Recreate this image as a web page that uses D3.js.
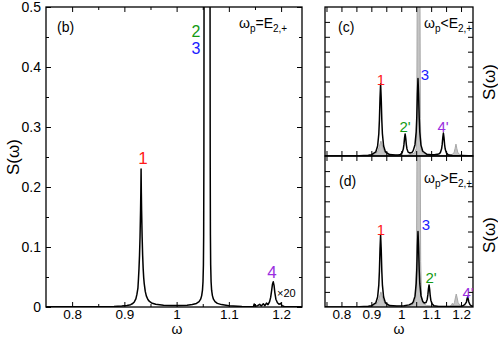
<!DOCTYPE html>
<html>
<head>
<meta charset="utf-8">
<script src="https://cdn.jsdelivr.net/npm/d3@7"></script>
<style>
  body { margin: 0; background: #fff; }
  svg { display: block; font-family: "Liberation Sans", Arial, sans-serif; }
</style>
</head>
<body>
<svg id="chart" width="498" height="337"></svg>
<script>
// spectrum for panel (b), [omega, S]
const curveB = [
  [0.750,0.0003],[0.850,0.0005],[0.880,0.0009],[0.895,0.0016],[0.905,0.0024],[0.912,0.0038],
  [0.916,0.0058],[0.919,0.0085],[0.922,0.0135],[0.924,0.021],[0.926,0.032],[0.927,0.047],
  [0.928,0.064],[0.929,0.086],[0.930,0.117],[0.931,0.161],[0.9315,0.19],[0.932,0.23],
  [0.9325,0.19],[0.933,0.161],[0.934,0.117],[0.935,0.086],[0.936,0.064],[0.937,0.049],
  [0.938,0.039],[0.940,0.026],[0.942,0.0185],[0.945,0.0125],[0.948,0.0092],[0.952,0.0068],
  [0.960,0.0046],[0.975,0.003],[0.990,0.0025],[1.005,0.0025],[1.020,0.0031],[1.030,0.0042],
  [1.038,0.006],[1.043,0.009],[1.046,0.013],[1.048,0.019],[1.0495,0.028],[1.0505,0.042],
  [1.0513,0.07],[1.0518,0.12],[1.0522,0.25],[1.0525,0.5],[1.0528,1.2],[1.0535,3],[1.0630,3],
  [1.0637,1.2],[1.0640,0.5],[1.0643,0.25],[1.0647,0.12],[1.0652,0.07],[1.0660,0.042],
  [1.0670,0.028],[1.0685,0.019],[1.0705,0.013],[1.0735,0.009],[1.078,0.006],[1.086,0.004],
  [1.100,0.002],[1.125,0.0009],[1.147,0.0005],[1.1485,0.005],[1.150,0.0012],[1.155,0.0022],
  [1.159,0.0045],[1.162,0.0016],[1.166,0.0055],[1.169,0.0022],[1.172,0.0065],[1.175,0.004],
  [1.178,0.009],[1.180,0.016],[1.182,0.028],[1.1835,0.038],[1.185,0.042],[1.1865,0.036],
  [1.188,0.024],[1.190,0.013],[1.193,0.007],[1.196,0.0045],[1.199,0.006],[1.202,0.002],
  [1.206,0.0009],[1.240,0.0003]
];

// panel (c), omega_p < E_2,+
const curveC = [
  [0.745,0.0008],[0.860,0.002],[0.890,0.005],[0.901,0.0085],[0.915,0.028],[0.921,0.067],
  [0.925,0.149],[0.927,0.242],[0.929,0.386],[0.931,0.483],[0.933,0.386],[0.935,0.242],
  [0.937,0.149],[0.941,0.067],[0.947,0.028],[0.961,0.0095],[0.980,0.006],[0.990,0.0075],
  [0.997,0.0105],[1.003,0.022],[1.007,0.048],[1.009,0.076],[1.011,0.12],[1.013,0.148],
  [1.015,0.12],[1.017,0.077],[1.019,0.049],[1.023,0.026],[1.029,0.02],[1.036,0.024],
  [1.040,0.036],[1.046,0.076],[1.050,0.162],[1.052,0.26],[1.054,0.416],[1.056,0.52],
  [1.058,0.416],[1.060,0.26],[1.062,0.162],[1.066,0.073],[1.072,0.032],[1.086,0.011],
  [1.100,0.008],[1.111,0.009],[1.125,0.013],[1.131,0.023],[1.135,0.048],[1.137,0.078],
  [1.139,0.123],[1.141,0.154],[1.143,0.123],[1.145,0.077],[1.147,0.047],[1.151,0.021],
  [1.157,0.009],[1.171,0.003],[1.240,0.001]
];
const greyC = [
  [0.745,0],[0.880,0.002],[0.905,0.008],[0.915,0.016],[0.922,0.035],[0.927,0.065],[0.932,0.1],
  [0.937,0.065],[0.942,0.035],[0.949,0.016],[0.960,0.008],[0.990,0.004],[1.020,0.006],[1.035,0.011],
  [1.045,0.022],[1.050,0.05],[1.052,0.25],[1.0532,1],[1.054,6],[1.062,6],[1.0628,1],[1.064,0.25],
  [1.066,0.05],[1.071,0.022],[1.085,0.009],[1.120,0.004],[1.165,0.004],[1.172,0.012],
  [1.177,0.025],[1.180,0.05],[1.183,0.08],[1.186,0.05],[1.189,0.025],[1.195,0.01],[1.240,0]
];

// panel (d), omega_p > E_2,+
const curveD = [
  [0.745,0.0008],[0.860,0.002],[0.890,0.005],[0.901,0.0085],[0.915,0.028],[0.921,0.066],
  [0.925,0.147],[0.927,0.239],[0.929,0.382],[0.931,0.477],[0.933,0.382],[0.935,0.239],
  [0.937,0.147],[0.941,0.066],[0.947,0.028],[0.961,0.0095],[0.985,0.006],[1.010,0.008],
  [1.026,0.014],[1.036,0.023],[1.040,0.033],[1.046,0.072],[1.050,0.156],[1.052,0.25],
  [1.054,0.4],[1.056,0.50],[1.058,0.4],[1.060,0.25],[1.062,0.156],[1.066,0.075],
  [1.072,0.036],[1.077,0.026],[1.083,0.03],[1.087,0.052],[1.089,0.08],[1.091,0.12],
  [1.093,0.146],[1.095,0.117],[1.097,0.073],[1.099,0.045],[1.103,0.021],[1.109,0.009],
  [1.125,0.004],[1.180,0.003],[1.200,0.004],[1.207,0.008],[1.214,0.02],[1.218,0.033],
  [1.220,0.053],[1.222,0.066],[1.224,0.053],[1.226,0.033],[1.230,0.015],[1.236,0.006],
  [1.240,0.004]
];
const greyD = [
  [0.745,0],[0.880,0.002],[0.905,0.008],[0.915,0.016],[0.922,0.035],[0.927,0.065],[0.932,0.1],
  [0.937,0.065],[0.942,0.035],[0.949,0.016],[0.960,0.008],[0.990,0.004],[1.020,0.006],[1.035,0.012],
  [1.043,0.025],[1.048,0.06],[1.051,0.3],[1.0525,1],[1.0535,6],[1.0625,6],[1.0635,1],[1.065,0.3],
  [1.068,0.06],[1.073,0.025],[1.085,0.01],[1.120,0.004],[1.162,0.004],[1.168,0.012],
  [1.171,0.025],[1.174,0.012],[1.178,0.03],[1.181,0.06],[1.184,0.086],[1.187,0.06],
  [1.190,0.03],[1.196,0.012],[1.240,0]
];

const omegaTicksMajor = [0.8, 0.9, 1.0, 1.1, 1.2];
const omegaTicksMinorB = [0.85, 0.95, 1.05, 1.15];
const omegaTicksR = [0.75, 0.8, 0.85, 0.9, 0.95, 1.0, 1.05, 1.1, 1.15, 1.2];
const sTicksB = [0, 0.1, 0.2, 0.3, 0.4, 0.5];
const sTicksMinorB = [0.05, 0.15, 0.25, 0.35, 0.45];
const sTicksR = [0.1, 0.2, 0.3, 0.4, 0.5, 0.6, 0.7, 0.8, 0.9];

const RED = "#ff1a1a", GREEN = "#139a13", BLUE = "#1a1aff", PURPLE = "#9a2ee0";

const svg = d3.select("#chart");
const fmt = d => d === 1 ? "1" : d === 0 ? "0" : d3.format(".1f")(d);

const xB = d3.scaleLinear().domain([0.75, 1.24]).range([46, 302]);
const yB = d3.scaleLinear().domain([0, 0.5]).range([307, 7]);
const xR = d3.scaleLinear().domain([0.745, 1.24]).range([325, 473]);
const yC = d3.scaleLinear().domain([0, 1]).range([156, 7]);
const yD = d3.scaleLinear().domain([0, 1]).range([307, 156]);

function axes(x, y, opts) {
  const [x0, x1] = x.range(), [y0, y1] = y.range();
  const g = svg.append("g").attr("class", "axes");
  const add = (axis, tx, ty, size) => {
    const a = g.append("g").attr("transform", `translate(${tx},${ty})`).call(axis);
    a.select(".domain").remove();
    a.selectAll("line").attr("stroke", "#000").attr("stroke-width", 1);
    a.selectAll("text").attr("font-size", size || 14).attr("fill", "#000");
    return a;
  };
  // x major / minor, bottom and top
  add(d3.axisBottom(x).tickValues(opts.xMajor).tickSize(-5).tickPadding(2)
      .tickFormat(opts.xLabels ? fmt : ""), 0, y0, 13.5);
  add(d3.axisTop(x).tickValues(opts.xMajor).tickSize(-5).tickFormat(""), 0, y1);
  if (opts.xMinor) {
    add(d3.axisBottom(x).tickValues(opts.xMinor).tickSize(-3).tickFormat(""), 0, y0);
    add(d3.axisTop(x).tickValues(opts.xMinor).tickSize(-3).tickFormat(""), 0, y1);
  }
  add(d3.axisLeft(y).tickValues(opts.yMajor).tickSize(-5).tickPadding(5)
      .tickFormat(opts.yLabels ? fmt : ""), x0, 0);
  add(d3.axisRight(y).tickValues(opts.yMajor).tickSize(-5).tickFormat(""), x1, 0);
  if (opts.yMinor) {
    add(d3.axisLeft(y).tickValues(opts.yMinor).tickSize(-3).tickFormat(""), x0, 0);
    add(d3.axisRight(y).tickValues(opts.yMinor).tickSize(-3).tickFormat(""), x1, 0);
  }
}

function clip(id, x, y) {
  const [x0, x1] = x.range(), [y0, y1] = y.range();
  svg.append("clipPath").attr("id", id).append("rect")
    .attr("x", x0).attr("y", y1).attr("width", x1 - x0).attr("height", y0 - y1);
  return svg.append("g").attr("clip-path", `url(#${id})`);
}

function frame(x, y) {
  const [x0, x1] = x.range(), [y0, y1] = y.range();
  svg.append("rect").attr("x", x0).attr("y", y1).attr("width", x1 - x0).attr("height", y0 - y1)
    .attr("fill", "none").attr("stroke", "#000").attr("stroke-width", 1.3);
}

function drawCurve(g, data, x, y) {
  g.append("path").datum(data)
    .attr("d", d3.line().x(d => x(d[0])).y(d => y(d[1])))
    .attr("fill", "none").attr("stroke", "#000").attr("stroke-width", 1.5)
    .attr("stroke-linejoin", "round");
}

function drawGrey(g, data, x, y) {
  g.append("path").datum(data)
    .attr("d", d3.area().x(d => x(d[0])).y0(y(0)).y1(d => y(d[1])))
    .attr("fill", "#c4c4c4").attr("stroke", "#a8a8a8").attr("stroke-width", 1);
}

function label(txt, x, y, color, size, anchor) {
  return svg.append("text").attr("x", x).attr("y", y).attr("fill", color || "#000")
    .attr("font-size", size || 14).attr("text-anchor", anchor || "middle").text(txt);
}

function omegaLabel(x, y, rel) {
  const t = svg.append("text").attr("x", x).attr("y", y).attr("font-size", 14);
  t.append("tspan").text("ω");
  t.append("tspan").attr("font-size", 10).attr("dy", 4).text("p");
  t.append("tspan").attr("dy", -4).text(rel + "E");
  t.append("tspan").attr("font-size", 10).attr("dy", 4).text("2,+");
}

// panel (b)
const gB = clip("clipB", xB, yB);
drawCurve(gB, curveB, xB, yB);
axes(xB, yB, { xMajor: omegaTicksMajor, xMinor: omegaTicksMinorB, xLabels: true,
               yMajor: sTicksB, yMinor: sTicksMinorB, yLabels: true });
frame(xB, yB);

// panel (c)
const gC = clip("clipC", xR, yC);
drawGrey(gC, greyC, xR, yC);
drawCurve(gC, curveC, xR, yC);
axes(xR, yC, { xMajor: omegaTicksR, xLabels: false, yMajor: sTicksR, yLabels: false });

// panel (d)
const gD = clip("clipD", xR, yD);
drawGrey(gD, greyD, xR, yD);
drawCurve(gD, curveD, xR, yD);
axes(xR, yD, { xMajor: omegaTicksR, xLabels: false, yMajor: sTicksR, yLabels: false });
svg.append("g").attr("transform", "translate(0,307)")
  .call(d3.axisBottom(xR).tickValues(omegaTicksMajor).tickSize(0).tickPadding(2).tickFormat(fmt))
  .call(a => a.select(".domain").remove())
  .selectAll("text").attr("font-size", 13.5).attr("fill", "#000");
frame(xR, yC);
frame(xR, yD);

// axis titles
label("ω", 177, 333.5, "#000", 14);
label("ω", 399, 333.5, "#000", 14);
label("S(ω)", 0, 0, "#000", 17).attr("transform", "translate(19,157) rotate(-90)");
label("S(ω)", 0, 0, "#000", 17).attr("transform", "translate(495,82) rotate(-90)");
label("S(ω)", 0, 0, "#000", 17).attr("transform", "translate(495,235) rotate(-90)");

// panel annotations
label("(b)", 57, 32, "#000", 14, "start");
omegaLabel(239, 28, "=");
label("(c)", 338, 32, "#000", 14, "start");
omegaLabel(424, 28, "<");
label("(d)", 339, 186, "#000", 14, "start");
omegaLabel(424, 183, ">");

// peak labels
label("1", 143, 164, RED, 17);
label("2", 196, 37, GREEN, 16);
label("3", 196, 54, BLUE, 16);
label("4", 272, 278, PURPLE, 17);
label("×20", 277, 297, "#000", 11, "start");

label("1", 381, 85, RED, 15);
label("2'", 405, 132, GREEN, 15);
label("3", 425, 80, BLUE, 15);
label("4'", 443, 132, PURPLE, 15);

label("1", 381, 235, RED, 15);
label("3", 426, 230, BLUE, 15);
label("2'", 431, 283, GREEN, 15);
label("4'", 468, 298, PURPLE, 15);
</script>
</body>
</html>
